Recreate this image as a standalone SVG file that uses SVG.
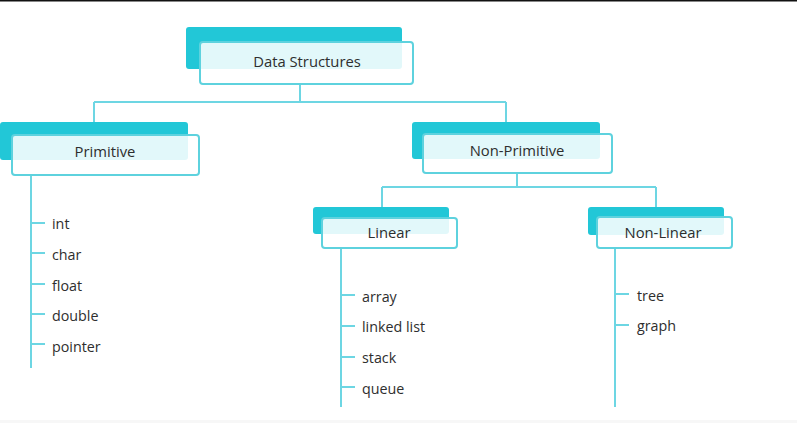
<svg xmlns="http://www.w3.org/2000/svg" width="797" height="423" viewBox="0 0 797 423">
<style>
.back{fill:#22c7d7;}
.front{fill:#ffffff;fill-opacity:0.87;stroke:#5ed2de;stroke-width:2;}
.title{font-family:"Open Sans","Noto Sans",sans-serif;font-size:14.8px;fill:#2e2e2e;text-anchor:middle;dominant-baseline:central;}
.item{font-family:"Open Sans","Noto Sans",sans-serif;font-size:14.3px;fill:#2e2e2e;dominant-baseline:central;}
.con{stroke:#6dd6e3;stroke-width:2;fill:none;}
</style>
<rect x="0" y="0" width="797" height="423" fill="#fff"/>
<rect x="0" y="0" width="797" height="1.5" fill="#111"/>
<rect x="0" y="420" width="797" height="3" fill="#f7f7f7"/>
<g id="connectors">
<path class="con" d="M300 84V102M94 102H506M94 102V122M506 102V122"/>
<path class="con" d="M517 173V187M382 187H656M382 187V207M656 187V207"/>
<path class="con" d="M31 175V368M31 223H45M31 253H45M31 284H45M31 314H45M31 344H45"/>
<path class="con" d="M341 248V407M341 295H355M341 326H355M341 357H355M341 387H355"/>
<path class="con" d="M615 248V407M615 294H629M615 325H629"/>
</g>
<g id="node-data-structures">
<rect class="back" x="186" y="27" width="216" height="42" rx="3"/>
<rect class="front" x="200" y="42" width="213" height="42" rx="3"/>
<text class="title" x="307" y="61">Data Structures</text>
</g>
<g id="node-primitive">
<rect class="back" x="0" y="122" width="188" height="38" rx="3"/>
<rect class="front" x="12" y="135" width="187" height="40" rx="3"/>
<text class="title" x="105" y="151">Primitive</text>
</g>
<g id="node-non-primitive">
<rect class="back" x="412" y="122" width="188" height="37" rx="3"/>
<rect class="front" x="423" y="134" width="189" height="39" rx="3"/>
<text class="title" x="517" y="150">Non-Primitive</text>
</g>
<g id="node-linear">
<rect class="back" x="313" y="207" width="136" height="27" rx="3"/>
<rect class="front" x="322" y="218" width="135" height="30" rx="3"/>
<text class="title" x="389" y="232">Linear</text>
</g>
<g id="node-non-linear">
<rect class="back" x="588" y="207" width="136" height="28" rx="3"/>
<rect class="front" x="597" y="217" width="135" height="31" rx="3"/>
<text class="title" x="663" y="232">Non-Linear</text>
</g>
<g id="primitive-items">
<text class="item" x="52" y="223">int</text>
<text class="item" x="52" y="254">char</text>
<text class="item" x="52" y="285">float</text>
<text class="item" x="52" y="315">double</text>
<text class="item" x="52" y="346">pointer</text>
</g>
<g id="linear-items">
<text class="item" x="362" y="296">array</text>
<text class="item" x="362" y="326">linked list</text>
<text class="item" x="362" y="357">stack</text>
<text class="item" x="362" y="388">queue</text>
</g>
<g id="non-linear-items">
<text class="item" x="637" y="295">tree</text>
<text class="item" x="637" y="325">graph</text>
</g>
</svg>
